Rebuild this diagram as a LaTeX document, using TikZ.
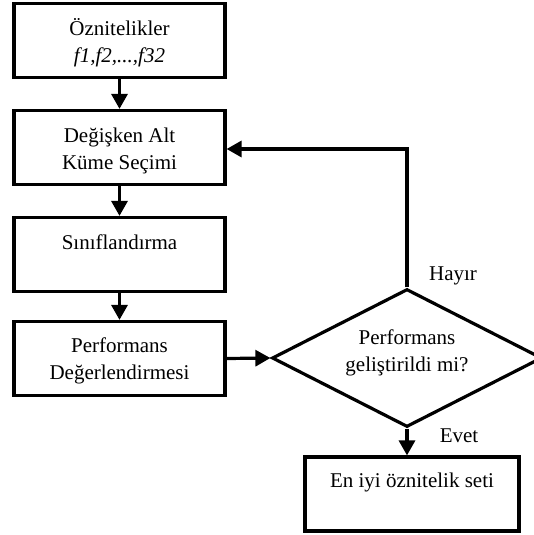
\documentclass[tikz,border=0pt]{standalone}
\usepackage{fontspec}
\setmainfont{Liberation Serif}
\usetikzlibrary{arrows.meta,shapes.geometric}
\begin{document}
\begin{tikzpicture}[x=1pt,y=-1pt,
  font=\fontsize{21}{27}\selectfont,
  stepbox/.style={draw,line width=3.2pt,minimum width=211pt,minimum height=74pt,inner sep=0pt},
  decision/.style={draw,line width=3.2pt,diamond,aspect=1.96,minimum width=270pt,minimum height=138pt,inner sep=0pt},
  txt/.style={align=center,inner sep=0pt},
  flow/.style={line width=3.2pt,-{Triangle[width=16pt,length=15pt]}},
  tag/.style={fill=white,inner sep=1pt}]
\useasboundingbox (0,0) rectangle (534,535);

% process boxes
\node[stepbox] (feat) at (119.5,40.5) {};
\node[stepbox] (subset) at (119.5,147.5) {};
\node[stepbox] (clf) at (119.5,254.5) {};
\node[stepbox] (eval) at (119.5,358.5) {};
\node[stepbox,minimum width=214pt] (best) at (412,494) {};

% decision
\node[decision] (dec) at (407,358) {};

% box texts
\node[txt] (tfeat) at (119.5,43) {Öznitelikler\\\textit{f1,f2,...,f32}};
\node[txt] (tsubset) at (119.5,151) {Değişken Alt\\Küme Seçimi};
\node[txt] (tclf) at (119.5,242) {Sınıflandırma};
\node[txt] (teval) at (119.5,361) {Performans\\Değerlendirmesi};
\node[txt] (tdec) at (407,353) {Performans\\geliştirildi mi?};
\node[txt] (tbest) at (412,482) {En iyi öznitelik seti};

% branch labels
\node[tag] (no) at (453,276) {Hayır};
\node[tag] (yes) at (459,436) {Evet};

% connectors
\draw[flow] (feat.south) -- (subset.north);
\draw[flow] (subset.south) -- (clf.north);
\draw[flow] (clf.south) -- (eval.north);
\draw[flow] (eval.east) -- (dec.west);
\draw[flow] (dec.south) -- (dec.south |- best.north);
\coordinate (turn) at (dec.north |- subset.east);
\draw[flow] (dec.north) -- ([yshift=-1.5pt]turn) -- ([yshift=-1.5pt]subset.east);
\end{tikzpicture}
\end{document}
